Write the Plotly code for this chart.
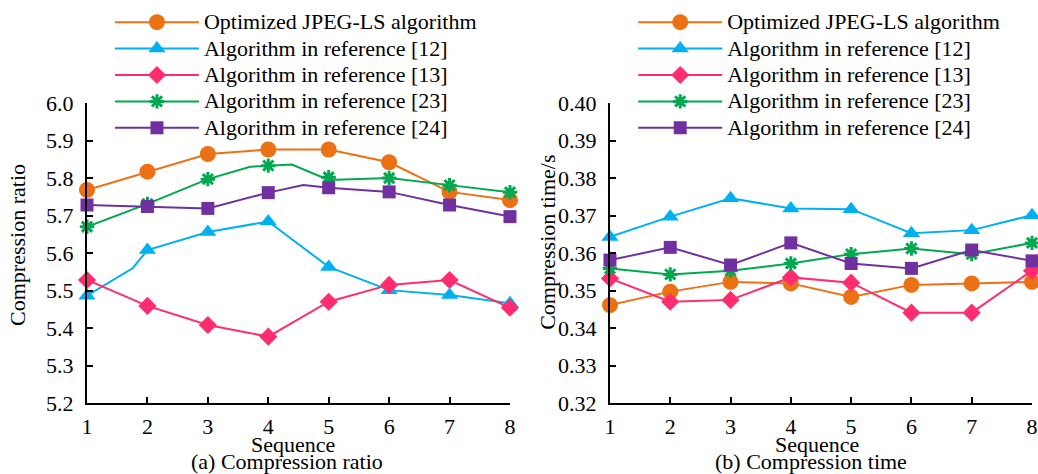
import plotly.graph_objects as go

# ---------------- data ----------------
seq = [1, 2, 3, 4, 5, 6, 7, 8]
series_names = [
    "Optimized JPEG-LS algorithm",
    "Algorithm in reference [12]",
    "Algorithm in reference [13]",
    "Algorithm in reference [23]",
    "Algorithm in reference [24]",
]

# (a) Compression ratio
ratio_opt = [5.768, 5.817, 5.864, 5.876, 5.876, 5.842, 5.763, 5.741]
ratio_r12 = [5.486, 5.608, 5.656, 5.684, 5.563, 5.501, 5.488, 5.466]
ratio_r13 = [5.528, 5.459, 5.408, 5.377, 5.470, 5.515, 5.528, 5.454]
ratio_r23 = [5.670, 5.731, 5.797, 5.833, 5.802, 5.800, 5.781, 5.762]
ratio_r24 = [5.728, 5.724, 5.719, 5.761, 5.774, 5.763, 5.728, 5.697]

# polyline vertices (the original lines have a few extra bends without markers)
ratio_r12_line_x = [1, 1.76, 2, 3, 4, 5, 6, 7, 8]
ratio_r12_line_y = [5.486, 5.560, 5.608, 5.656, 5.684, 5.563, 5.501, 5.488, 5.466]
ratio_r23_line_x = [1, 2, 3, 3.70, 4, 4.39, 5, 6, 7, 8]
ratio_r23_line_y = [5.670, 5.731, 5.797, 5.830, 5.833, 5.836, 5.795, 5.800, 5.781, 5.762]
ratio_r24_line_x = [1, 2, 3, 4, 4.58, 5, 6, 7, 8]
ratio_r24_line_y = [5.728, 5.724, 5.719, 5.761, 5.781, 5.774, 5.763, 5.728, 5.697]

# (b) Compression time (s)
time_opt = [0.3461, 0.3497, 0.3523, 0.3519, 0.3483, 0.3515, 0.3519, 0.3523]
time_r12 = [0.3643, 0.3697, 0.3746, 0.3719, 0.3717, 0.3653, 0.3661, 0.3701]
time_r13 = [0.3532, 0.3470, 0.3475, 0.3535, 0.3521, 0.3441, 0.3441, 0.3553]
time_r23 = [0.3559, 0.3543, 0.3553, 0.3572, 0.3597, 0.3612, 0.3597, 0.3627]
time_r24 = [0.3581, 0.3615, 0.3568, 0.3627, 0.3572, 0.3559, 0.3608, 0.3579]

ratio_ticks = [5.2, 5.3, 5.4, 5.5, 5.6, 5.7, 5.8, 5.9, 6.0]
time_ticks = [0.32, 0.33, 0.34, 0.35, 0.36, 0.37, 0.38, 0.39, 0.40]

# ---------------- styles ----------------
colors = ["#EC7014", "#00B0F0", "#FF2D6F", "#00A94F", "#7030A0"]
symbols = ["circle", "triangle-up", "diamond", "asterisk-open", "square"]
sizes = [16, 15, 14, 12, 13]
FONT = "Liberation Serif"
FS = 22

fig = go.Figure()

left_lines = [
    (seq, ratio_opt),
    (ratio_r12_line_x, ratio_r12_line_y),
    (seq, ratio_r13),
    (ratio_r23_line_x, ratio_r23_line_y),
    (ratio_r24_line_x, ratio_r24_line_y),
]
left_marks = [ratio_opt, ratio_r12, ratio_r13, ratio_r23, ratio_r24]
right_marks = [time_opt, time_r12, time_r13, time_r23, time_r24]


def marker_for(i):
    if symbols[i] == "asterisk-open":
        return dict(symbol=symbols[i], size=sizes[i], color=colors[i],
                    line=dict(color=colors[i], width=3))
    return dict(symbol=symbols[i], size=sizes[i], color=colors[i], line=dict(width=0))


for i in range(5):
    lx, ly = left_lines[i]
    fig.add_trace(go.Scatter(x=lx, y=ly, mode="lines", xaxis="x", yaxis="y",
                             line=dict(color=colors[i], width=2), showlegend=False,
                             cliponaxis=False, hoverinfo="skip"))
    fig.add_trace(go.Scatter(x=seq, y=left_marks[i], mode="markers", xaxis="x", yaxis="y",
                             marker=marker_for(i), showlegend=False, cliponaxis=False,
                             name=series_names[i]))
    fig.add_trace(go.Scatter(x=seq, y=right_marks[i], mode="lines+markers", xaxis="x2", yaxis="y2",
                             line=dict(color=colors[i], width=2), marker=marker_for(i),
                             showlegend=False, cliponaxis=False, name=series_names[i]))

# legend entries (one legend per panel); text drawn larger than the row pitch font
for lg in ["legend", "legend2"]:
    for i in range(5):
        fig.add_trace(go.Scatter(x=[None], y=[None], mode="lines+markers",
                                 name='<span style="font-size:%dpx">%s</span>' % (FS, series_names[i]),
                                 line=dict(color=colors[i], width=2), marker=marker_for(i),
                                 legend=lg, xaxis="x", yaxis="y"))

axis_common = dict(showline=True, linecolor="black", linewidth=2, ticks="inside",
                   ticklen=6, tickwidth=2, tickcolor="black", showgrid=False,
                   zeroline=False, tickfont=dict(family=FONT, size=FS, color="black"),
                   mirror=False)

legend_common = dict(xanchor="left", yanchor="top", bgcolor="rgba(0,0,0,0)",
                     itemwidth=84, font=dict(family=FONT, size=18, color="black"),
                     tracegroupgap=0, borderwidth=0)

fig.update_layout(
    width=1038, height=474,
    margin=dict(l=87, r=6, t=103, b=71, autoexpand=False),
    paper_bgcolor="white", plot_bgcolor="white",
    font=dict(family=FONT, size=FS, color="black"),
    xaxis=dict(domain=[0, 0.4476], range=[1, 8], tickvals=seq, anchor="y",
               ticklabelstandoff=3, **axis_common),
    yaxis=dict(domain=[0, 1], range=[5.2, 6.0], tickvals=ratio_ticks, tickformat=".1f",
               anchor="x", ticklabelstandoff=7, **axis_common),
    xaxis2=dict(domain=[0.5534, 1], range=[1, 8], tickvals=seq, anchor="y2",
                ticklabelstandoff=3, **axis_common),
    yaxis2=dict(domain=[0, 1], range=[0.32, 0.40], tickvals=time_ticks, tickformat=".2f",
                anchor="x2", ticklabelstandoff=7, **axis_common),
    legend=dict(x=0.0243, y=1.33, **legend_common),
    legend2=dict(x=0.578, y=1.33, **legend_common),
    showlegend=True,
)

annots = [
    dict(text="Compression ratio", x=-0.073, y=0.527, textangle=-90),
    dict(text="Compression time/s", x=0.4878, y=0.537, textangle=-90),
    dict(text="Sequence", x=0.218, y=-0.137),
    dict(text="(a) Compression ratio", x=0.2116, y=-0.195),
    dict(text="Sequence", x=0.7725, y=-0.137),
    dict(text="(b) Compression time", x=0.766, y=-0.195),
]
for a in annots:
    fig.add_annotation(xref="paper", yref="paper", showarrow=False, xanchor="center",
                       yanchor="middle", font=dict(family=FONT, size=FS, color="black"), **a)

fig.write_html("out.html")
